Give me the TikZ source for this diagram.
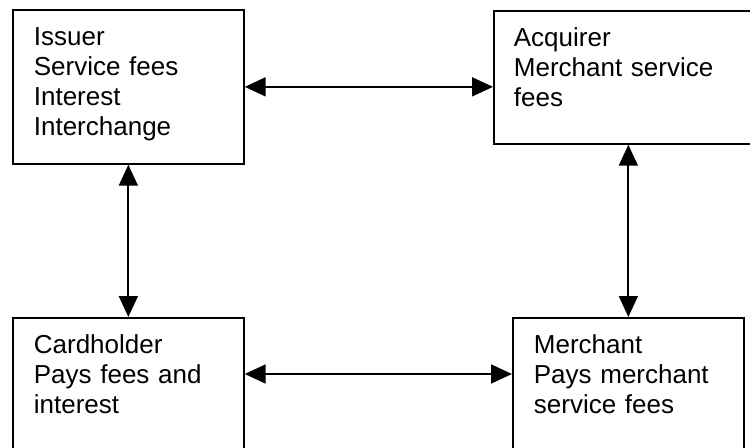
\documentclass[tikz,border=0pt]{standalone}
\usepackage{fontspec}
\setmainfont{Liberation Sans}
\usetikzlibrary{positioning, calc, arrows.meta}

\begin{document}
\begin{tikzpicture}[
        x=0.02cm, y=-0.02cm,
        party/.style={rectangle, draw, line width=1pt, anchor=north west, align=left,
            inner xsep=0.42cm, inner ysep=0pt, text height=0.72cm,
            font=\fontsize{14.8pt}{17pt}\selectfont},
        bidir/.style={{Triangle[length=0.42cm, width=0.38cm]}-{Triangle[length=0.42cm, width=0.38cm]}, line width=1pt},
    ]

    \useasboundingbox (0,0) rectangle (750,448);
    \clip (0,0) rectangle (750,448);

    % ===== Top row =====
    \node[party, text width=3.78cm, text depth=2.36cm] (ISS) at (12,9)
        {Issuer\\Service fees\\Interest\\Interchange};
    \node[party, text width=4.8cm, text depth=1.94cm, inner xsep=0.4cm] (ACQ) at (493,10)
        {Acquirer\\Merchant service\\fees};

    % ===== Bottom row =====
    \node[party, text width=3.78cm, text depth=2.6cm] (CH) at (12,317)
        {Cardholder\\Pays fees and\\interest};
    \node[party, text width=3.78cm, text depth=2.6cm] (MER) at (512,317)
        {Merchant\\Pays merchant\\service fees};

    % ===== Links =====
    \coordinate (CHR) at ($(CH.north east)+(0,57)$);

    \draw[bidir] (ISS.east) -- (ISS.east -| ACQ.west);
    \draw[bidir] (ISS.south) -- (CH.north);
    \draw[bidir] (MER.north |- ACQ.south) -- (MER.north);
    \draw[bidir] (CHR) -- (CHR -| MER.west);

\end{tikzpicture}
\end{document}
